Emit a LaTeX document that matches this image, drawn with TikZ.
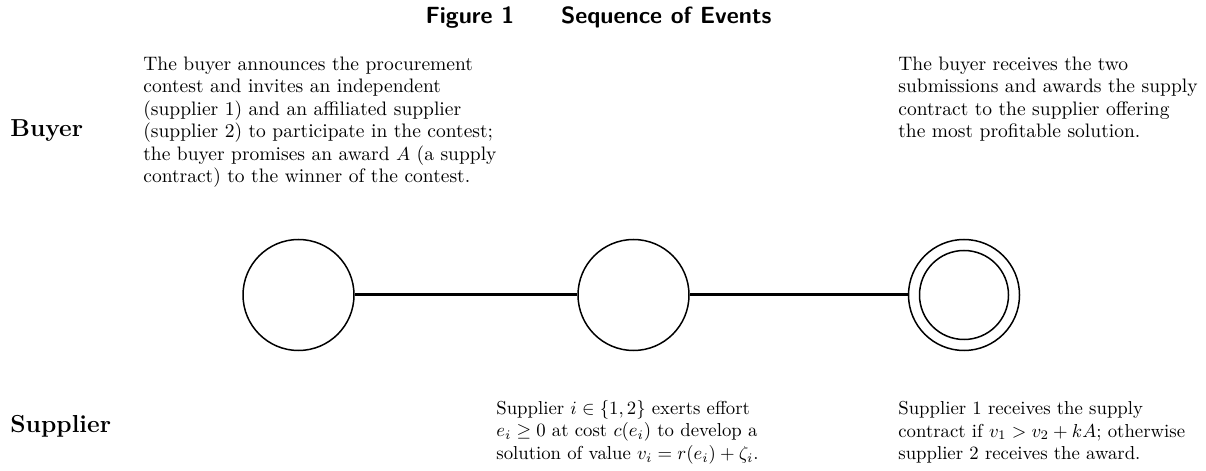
\documentclass[tikz,border=0pt]{standalone}
\usepackage{amsmath,amssymb}
\begin{document}
\begin{tikzpicture}[x=0.5333pt,y=-0.5333pt,
  txt/.style={anchor=north west,inner sep=0pt,align=left,font=\fontsize{10}{11.95}\selectfont},
  bigtxt/.style={txt,font=\fontsize{10.4}{11.95}\selectfont},
  lab/.style={anchor=base west,inner sep=0pt,font=\fontsize{13.1}{15}\selectfont\bfseries},
  event/.style={circle,draw,line width=0.8pt,minimum size=111*0.5333pt,inner sep=0pt},
  link/.style={line width=1.6pt}]
\useasboundingbox (0,0) rectangle (1206,471);
\node[anchor=base,inner sep=0pt,font=\fontsize{12.5}{15}\selectfont\sffamily\bfseries] (title) at (598.5,24) {Figure 1\qquad Sequence of Events};
\node[lab] (buyer) at (10,137) {Buyer};
\node[lab] (supplier) at (10,432) {Supplier};
\node[bigtxt] (t1) at (143,56.5) {The buyer announces the procurement\\contest and invites an independent\\(supplier 1) and an affiliated supplier\\(supplier 2) to participate in the contest;\\the buyer promises an award $A$ (a supply\\contract) to the winner of the contest.};
\node[bigtxt] (t2) at (898,56.5) {The buyer receives the two\\submissions and awards the supply\\contract to the supplier offering\\the most profitable solution.};
\node[txt] (t3) at (496,400) {Supplier $i\in\{1,2\}$ exerts effort\\$e_i\geq 0$ at cost $c(e_i)$ to develop a\\solution of value $v_i=r(e_i)+\zeta_i$.};
\node[txt] (t4) at (898,401) {Supplier 1 receives the supply\\contract if $v_1>v_2+kA$; otherwise\\supplier 2 receives the award.};
\node[event] (c1) at (298.5,295) {};
\node[event] (c2) at (633.5,295) {};
\node[event] (c3) at (964,295) {};
\node[event,minimum size=89*0.5333pt] (c3in) at (964,295) {};
\draw[link] (c1) -- (c2);
\draw[link] (c2) -- (c3);
\end{tikzpicture}
\end{document}
